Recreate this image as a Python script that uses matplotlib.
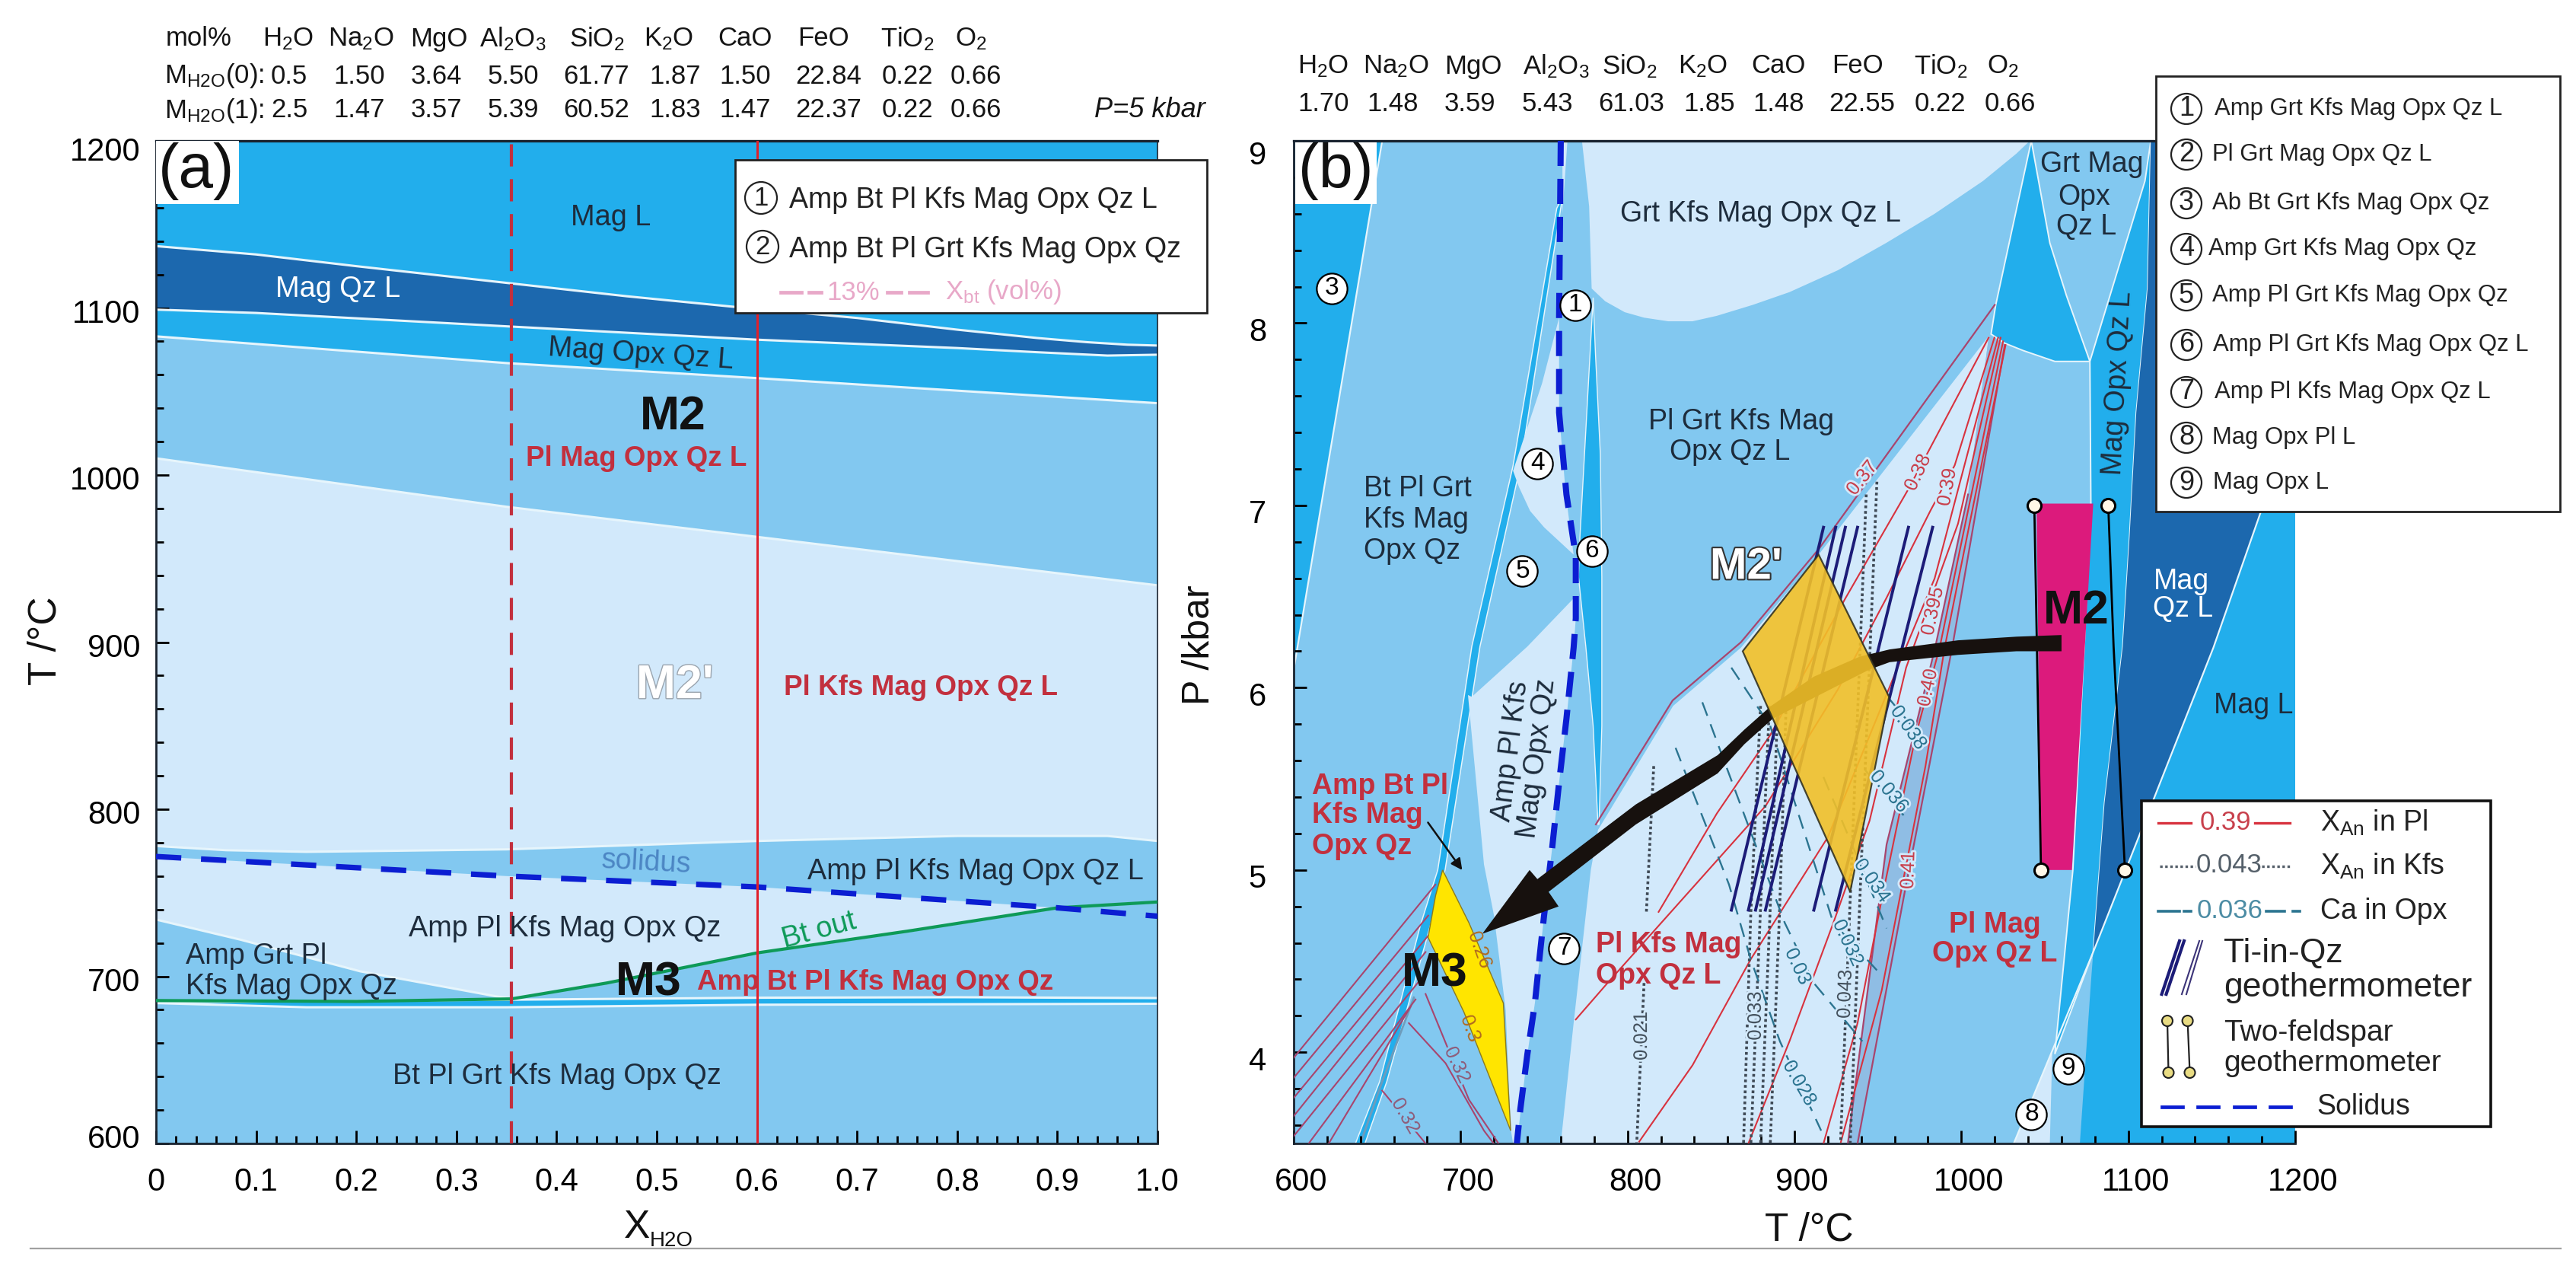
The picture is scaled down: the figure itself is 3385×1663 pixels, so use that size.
import matplotlib
matplotlib.use("Agg")
import matplotlib.pyplot as plt
from matplotlib.patches import Rectangle, Circle, Polygon
from matplotlib.transforms import ScaledTranslation
from matplotlib.ticker import MultipleLocator
import matplotlib.patheffects as pe

plt.rcParams['font.family'] = ['Liberation Sans', 'DejaVu Sans']
plt.rcParams['mathtext.default'] = 'regular'

BRIGHT = '#22AEEC'
DARK = '#1C68AE'
MEDIUM = '#82C8F0'
LIGHT = '#D2E9FB'
LINE = '#E6F5FC'
RED = '#C2303E'
TXT = '#1D2C3C'
SOLID_BLUE = '#0B1ED2'

# composition tables
oxides = ['H$_2$O', 'Na$_2$O', 'MgO', 'Al$_2$O$_3$', 'SiO$_2$', 'K$_2$O', 'CaO', 'FeO', 'TiO$_2$', 'O$_2$']
m0 = ['0.5', '1.50', '3.64', '5.50', '61.77', '1.87', '1.50', '22.84', '0.22', '0.66']
m1 = ['2.5', '1.47', '3.57', '5.39', '60.52', '1.83', '1.47', '22.37', '0.22', '0.66']
mb = ['1.70', '1.48', '3.59', '5.43', '61.03', '1.85', '1.48', '22.55', '0.22', '0.66']

# panel a boundaries, X_H2O and T
a_magl_x = [0, .1, .2, .35, .47, .58, .7, .8, .88, .93, .97, 1]
a_magl_t = [1137, 1132, 1125, 1115, 1107, 1100.5, 1094, 1087, 1082, 1079.5, 1078, 1077.5]
a_qz_x = [0, .1, .35, .6, .8, .88, .95, 1]
a_qz_t = [1099, 1097, 1089, 1081, 1076, 1073.5, 1071.5, 1072]
a_opx_x = [0, .35, .6, 1]
a_opx_t = [1083, 1067, 1058, 1043]
a_pl_x = [0, .35, .6, 1]
a_pl_t = [1010, 981, 963, 934]
a_kfs_x = [0, .07, .15, .35, .6, .8, .95, 1]
a_kfs_t = [778, 775.5, 774.5, 776, 781, 784, 784, 781]
a_sol_x = [0, .35, .6, .9, 1]
a_sol_t = [771.7, 760, 753.5, 741, 736]
a_low_x = [0, .084, .204, .34, .355, .45, .6, .75, .9, 1]
a_low_t = [734, 722, 703, 688, 686.7, 696, 714, 727, 741, 744.5]
a_grn_x = [0, .2, .355, .45, .6, .75, .9, 1]
a_grn_t = [685.5, 685, 686.5, 696, 714, 727, 741, 744.5]
a_up_x = [0, .35, .6, .8, 1]
a_up_t = [684.5, 686, 687.2, 687.5, 687]
a_dn_x = [0, .15, .35, .6, 1]
a_dn_t = [684, 681.5, 681.5, 683, 683.6]
a_x_dash = .355
a_x_solid = .6

# panel b phase fields, (T, P)
b_r3 = [(600, 9), (653, 9), (600, 6.1)]
b_band = [(757.6, 8.63), (731.4, 7.217), (706.7, 6.226), (686.3, 5), (676, 4.7), (651.5, 3.84), (637, 3.5),
          (642.7, 3.5), (655.8, 3.84), (682, 4.7), (690.7, 5), (711.6, 6.226), (735.8, 7.217), (761, 8.69)]
b_band_grey = [(640, 3.5), (653, 3.84), (672, 4.3)]
b_f4 = [(759, 8.03), (748.8, 7.67), (731.4, 7.19), (735, 7.1), (741.6, 6.97), (750, 6.88), (767.7, 6.73), (763, 7.06), (759, 7.51)]
b_top_sl = [(761, 9), (764, 9), (761, 8.6)]
b_lowlight = [(767.7, 6.49), (740, 6.226), (706.7, 5.95), (704.4, 5.96), (714, 5.03), (720, 4.75), (727, 4.23),
              (730, 3.58), (731.4, 3.5), (733.7, 3.5), (740, 3.99), (744.5, 4.27), (750, 4.75), (754.6, 5.1),
              (759, 5.48), (763.4, 5.83), (767.7, 6.22), (769, 6.38)]
b_f6 = [(779.4, 8.14), (771.5, 6.83), (770.6, 6.61), (775, 6.226), (779.4, 5.79), (782.3, 5.25),
        (782.9, 5.25), (784.6, 5.79), (784.6, 6.61), (783.7, 7.28), (780.8, 7.83)]
b_grt = [(772.7, 9), (777, 8.64), (778.5, 8.19), (786.6, 8.12), (798.3, 8.06), (809.9, 8.03), (824.4, 8.01), (838.9, 8.01),
         (853.5, 8.04), (875, 8.1), (897, 8.17), (926, 8.29), (955, 8.44), (984, 8.6), (1013, 8.78), (1033, 8.93), (1041, 9)]
b_wedge = [(1041.9, 9), (1020.6, 8.1), (1017.8, 7.94), (1026, 7.89), (1036.9, 7.85), (1056, 7.79), (1077, 7.79), (1063, 8.15), (1053, 8.44)]
b_kfs = [(1016.5, 7.93), (914.5, 6.73), (868, 6.22), (827.3, 5.9), (782.3, 5.22), (778, 5), (767.7, 4.16),
         (760, 3.5), (932, 3.5), (955.2, 5.14), (984.3, 6.22), (1004, 7.06)]
b_magopx = [(1113.5, 9), (1111.6, 8.19), (1104.8, 7.51), (1100.8, 6.83), (1096.7, 6.226), (1085.8, 5.37), (1079, 4.55),
            (1056, 3.99), (1066.8, 5), (1073.6, 6.22), (1077.6, 7.01), (1077, 7.79), (1110, 8.78)]
b_magqz = [(1113.5, 9), (1111.6, 8.19), (1104.8, 7.51), (1100.8, 6.83), (1096.7, 6.226), (1085.8, 5.37), (1079, 4.55),
           (1115.7, 5.4), (1151, 6.22), (1179.6, 6.97), (1200, 7.5), (1200, 9)]
b_magl = [(1200, 7.5), (1200, 3.5), (1071, 3.5), (1077.6, 4.38), (1079, 4.55), (1115.7, 5.4), (1151, 6.22), (1179.6, 6.97)]
b_f8 = [(1054.5, 4.01), (1031.4, 3.5), (1053, 3.5)]
b_diag = [(1031.4, 3.5), (1079, 4.55), (1115.7, 5.4), (1151, 6.22), (1179.6, 6.97), (1200, 7.5)]
b_band_r = [(932, 3.5), (937.8, 3.5), (966.9, 4.92), (994.5, 6.22), (1026, 7.88), (1016.5, 7.93), (1004, 7.06), (984.3, 6.22), (955.2, 5.14)]
b_m3 = [(689.2, 5), (705, 4.71), (725.6, 4.27), (730, 3.57), (702, 4.22), (680.5, 4.63), (685, 4.86)]
b_m2p = [(914.5, 6.73), (956.7, 5.95), (933.4, 4.88), (869, 6.2)]
b_m2 = [(1045, 7.01), (1079, 7.01), (1074, 6.226), (1066.2, 5), (1047.7, 5)]

b_sol = [(760, 9), (759, 8.03), (759, 7.51), (763.4, 7.06), (769, 6.72), (769, 6.38), (767.7, 6.22), (763.4, 5.83),
         (759, 5.48), (754.6, 5.1), (750, 4.75), (747.4, 4.53), (744.5, 4.27), (740, 3.99), (735.8, 3.69), (733.7, 3.5)]

# X_An in Pl isolines
pl_lines = [
    [(1020, 8.1), (914.5, 6.76), (868, 6.25), (827, 5.93), (781, 5.25)],
    [(1016.3, 7.92), (968.3, 7.09), (930.5, 6.49), (885.5, 5.74), (853.5, 5.31), (818.6, 4.77)],
    [(1019.8, 7.92), (996, 7.22), (981.4, 6.97), (955, 6.49), (926, 5.99), (882.6, 5.35), (788, 4.38), (769, 4.18)],
    [(1022, 7.92), (984, 6.6), (967, 6.226), (920, 5.18), (873.8, 4.51), (839, 3.93), (807, 3.51)],
    [(1023.5, 7.92), (998, 6.9), (966.9, 6.11), (945, 5.27), (923.3, 4.71), (897, 4.06), (872.4, 3.5)],
    [(1025, 7.9), (987, 6.22), (972.7, 5.74), (952.3, 4.84), (937.8, 4.16), (917.4, 3.5)],
    [(1026.5, 7.88), (990, 6.22), (978.5, 5.57), (952.3, 4.34), (927.6, 3.5)],
    [(932, 3.5), (955.2, 5.14), (984.3, 6.22), (1004, 7.06)],
    [(937.8, 3.5), (966.9, 4.92), (994.5, 6.22), (1026, 7.88)],
]
# left fan and lower fan
fan_lines = [
    [(600, 3.97), (684.9, 4.92)], [(600, 3.86), (680.6, 4.75)], [(600, 3.75), (680.6, 4.64)],
    [(600, 3.65), (679, 4.55)], [(600, 3.54), (676, 4.4)], [(609, 3.5), (673, 4.29)], [(621, 3.5), (670, 4.25)],
    [(679, 4.32), (705, 3.74), (722.7, 3.5)], [(669, 4.16), (691, 3.94), (714, 3.57), (719.8, 3.5)],
    [(653, 3.79), (679, 3.5)],
]
# Ti-in-Qz, top and bottom T
ti_top = [917.4, 924.7, 930.5, 937.8, 968.3, 982.8]
ti_bot = [862.2, 872.4, 876.7, 882.6, 911.6, 924.7]
ti_p = [6.88, 4.78]
# X_An in Kfs
kfs_lines = [
    [(815.7, 5.57), (811.3, 4.77)], [(809.9, 4.38), (805.5, 3.5)],
    [(879.7, 5.9), (873.8, 4.75), (869.5, 3.5)], [(885, 5.9), (879.5, 4.75), (873.9, 3.5)],
    [(890, 5.9), (885.3, 4.75), (879.7, 3.5)], [(895, 5.9), (891, 4.75), (885.5, 3.5)],
    [(943, 7.06), (933.4, 4.84), (927.6, 3.5)], [(949.4, 7.13), (939.2, 4.84), (933.4, 3.5)],
]
# Ca in Opx
ca_lines = [
    [(828.8, 5.67), (860.8, 4.92), (873.8, 4.51), (891.3, 4.06), (916, 3.57)],
    [(844.8, 5.92), (868, 5.35), (894.2, 4.71), (911.6, 4.38), (940.7, 4.06)],
    [(862.2, 6.11), (885.5, 5.79), (923.3, 4.71), (949.4, 4.45)],
    [(917.4, 5.51), (936.3, 5.1), (955.2, 4.68)],
    [(942.2, 5.55), (965.4, 5.3)],
    [(956.7, 5.94), (978.5, 5.7)],
]
feld_t = [(1043.7, 1047.7), (1088, 1098)]
feld_mid = [None, (1091.2, 6.226)]
feld_p = (7.0, 5.0)
arrow_big = [(1060, 6.289), (1033, 6.28), (998, 6.26), (957, 6.21), (939, 6.17), (911.5, 6.06), (886, 5.9), (870, 5.77), (854, 5.63),
             (805, 5.36), (746, 4.95), (741.3, 5), (713, 4.65), (758.7, 4.8), (752.7, 4.88), (805, 5.25), (854, 5.53), (870, 5.69),
             (887, 5.83), (945, 6.1), (957, 6.14), (998, 6.18), (1033, 6.2), (1060, 6.2)]

# isoline labels: text, T, P, rotation
pl_labels = [('0.37', 940.7, 7.15, 52), ('0.38', 974, 7.18, 65), ('0.39', 991.6, 7.1, 80), ('0.395', 982.9, 6.42, 78),
             ('0.40', 980, 6, 78), ('0.41', 968.3, 5, 88)]
fan_labels = [('0.32', 698, 3.93, -65), ('0.32', 667, 3.65, -60)]
m3_labels = [('0.26', 711, 4.56, -70), ('0.3', 705, 4.13, -70)]
kfs_labels = [('0.021', 808.4, 4.09, 90), ('0.033', 876.7, 4.2, 90), ('0.043', 930.5, 4.32, 88)]
ca_labels = [('0.038', 968.3, 5.78, -55), ('0.036', 956.7, 5.43, -50), ('0.034', 946.5, 4.94, -55),
             ('0.032', 932, 4.6, -65), ('0.03', 902, 4.47, -65), ('0.028', 903, 3.83, -60)]
circ_b = [(3, 623, 8.19), (1, 768.6, 8.1), (4, 746, 7.23), (5, 737, 6.64), (6, 778.5, 6.75), (7, 762, 4.57),
          (8, 1042, 3.66), (9, 1064, 3.91)]
legend_b = ['Amp Grt Kfs Mag Opx Qz L', 'Pl Grt Mag Opx Qz L', 'Ab Bt Grt Kfs Mag Opx Qz', 'Amp Grt Kfs Mag Opx Qz',
            'Amp Pl Grt Kfs Mag Opx Qz', 'Amp Pl Grt Kfs Mag Opx Qz L', 'Amp Pl Kfs Mag Opx Qz L', 'Mag Opx Pl L', 'Mag Opx L']
legend_b_y = [143, 203, 267, 327, 388, 453, 515, 575, 634]
legend_b_x = [2910, 2907, 2907, 2902, 2907, 2908, 2910, 2907, 2908]

fig = plt.figure(figsize=(33.85, 16.63), dpi=100)
W, H = 3385, 1663
ax_a = fig.add_axes([205 / W, (H - 1502) / H, 1316 / W, 1317 / H])
ax_b = fig.add_axes([1700 / W, (H - 1502) / H, 1316 / W, 1317 / H])
top = fig.add_axes([0, 0, 1, 1], zorder=5)
top.set_xlim(0, W)
top.set_ylim(H, 0)
top.axis('off')
top.patch.set_alpha(0)


def below(xs, ts, color):
    ax_a.fill(list(xs) + [xs[-1], xs[0]], list(ts) + [600, 600], color=color, lw=0, zorder=1)


def area(pts, color, z=1, edge=None, lw=0, alpha=None):
    ax_b.add_patch(Polygon(pts, closed=True, facecolor=color, edgecolor=edge if edge else 'none', lw=lw, zorder=z, alpha=alpha))


def path(pts, **kw):
    ax_b.plot([p[0] for p in pts], [p[1] for p in pts], **kw)


# ---- panel a
ax_a.set_facecolor(BRIGHT)
below(a_magl_x, a_magl_t, DARK)
below(a_qz_x, a_qz_t, BRIGHT)
below(a_opx_x, a_opx_t, MEDIUM)
below(a_pl_x, a_pl_t, LIGHT)
below(a_kfs_x, a_kfs_t, MEDIUM)
below(a_sol_x, a_sol_t, LIGHT)
below(a_low_x, a_low_t, MEDIUM)
below(a_up_x, a_up_t, BRIGHT)
below(a_dn_x, a_dn_t, MEDIUM)
for xs, ts in [(a_magl_x, a_magl_t), (a_qz_x, a_qz_t), (a_opx_x, a_opx_t), (a_pl_x, a_pl_t), (a_kfs_x, a_kfs_t),
               (a_low_x, a_low_t), (a_up_x, a_up_t), (a_dn_x, a_dn_t)]:
    ax_a.plot(xs, ts, color=LINE, lw=2.2, zorder=2)
ax_a.plot(a_grn_x, a_grn_t, color='#0E9A58', lw=3, zorder=3)
ax_a.plot(a_sol_x, a_sol_t, color=SOLID_BLUE, lw=5.2, ls=(0, (4.6, 3.6)), zorder=3)
ax_a.axvline(a_x_dash, color=RED, lw=3, ls=(0, (7, 4)), zorder=4)
ax_a.axvline(a_x_solid, color='#E0202A', lw=2.2, zorder=4)
ax_a.set_xlim(0, 1)
ax_a.set_ylim(600, 1200)
ax_a.xaxis.set_major_locator(MultipleLocator(.1))
ax_a.xaxis.set_minor_locator(MultipleLocator(.02))
ax_a.yaxis.set_major_locator(MultipleLocator(100))
ax_a.yaxis.set_minor_locator(MultipleLocator(20))
ax_a.set_xticks([i / 10 for i in range(11)])
ax_a.set_xticklabels(['0', '0.1', '0.2', '0.3', '0.4', '0.5', '0.6', '0.7', '0.8', '0.9', '1.0'])

a_texts = [
    ('Mag L', .454, 1154, TXT, 0), ('Mag Qz L', .182, 1111, 'white', 0), ('Mag Opx Qz L', .484, 1072, TXT, -4),
    ('Amp Pl Kfs Mag Opx Qz L', .818, 762.7, TXT, 0), ('Amp Pl Kfs Mag Opx Qz', .408, 728.7, TXT, 0),
    ('Bt Pl Grt Kfs Mag Opx Qz', .40, 640, TXT, 0), ('solidus', .49, 768, '#4C86C4', -3), ('Bt out', .662, 727.5, '#0E9A58', 15),
]
for s, x, y, c, r in a_texts:
    ax_a.text(x, y, s, color=c, rotation=r, fontsize=27.3, ha='center', va='center', zorder=8)
for s, y in [('Amp Grt Pl', 712), ('Kfs Mag Opx Qz', 694)]:
    ax_a.text(.03, y, s, color=TXT, fontsize=27.3, ha='left', va='center', zorder=8)
for s, x, y in [('Pl Mag Opx Qz L', .48, 1010), ('Pl Kfs Mag Opx Qz L', .764, 872.5), ('Amp Bt Pl Kfs Mag Opx Qz', .718, 696.5)]:
    ax_a.text(x, y, s, color=RED, fontsize=26.5, fontweight='bold', ha='center', va='center', zorder=8)
ax_a.text(.516, 1035, 'M2', color='#111111', fontsize=45, fontweight='bold', ha='center', va='center', zorder=8)
ax_a.text(.492, 696, 'M3', color='#111111', fontsize=45, fontweight='bold', ha='center', va='center', zorder=8)
ax_a.text(.518, 874, "M2'", color='white', fontsize=45, fontweight='bold', ha='center', va='center', zorder=8,
          path_effects=[pe.withStroke(linewidth=2, foreground='#9AA4AE')])

# ---- panel b
ax_b.set_facecolor(MEDIUM)
area(b_r3, BRIGHT, 1, LINE, 1.6)
area(b_band, BRIGHT, 1, LINE, 1.1)
path(b_band_grey, color='#6E9CBC', lw=2, zorder=1.5)
area(b_f4, LIGHT)
area(b_top_sl, LIGHT)
area(b_lowlight, LIGHT)
area(b_f6, BRIGHT, 1, LINE, 1)
area(b_grt, LIGHT)
area(b_kfs, LIGHT)
area(b_band_r, '#8FBDE4')
area(b_wedge, BRIGHT, 1, LINE, 1.4)
area(b_magopx, BRIGHT, 1, LINE, 1.4)
area(b_magqz, DARK)
area(b_magl, BRIGHT)
area(b_f8, LIGHT)
path(b_diag, color=LINE, lw=1.6, zorder=2)
area(b_m2, '#DC1A7C', 2.5)
for pts in pl_lines[:1] + pl_lines[7:]:
    path(pts, color='#A8456E', lw=1.6, zorder=3)
for pts in pl_lines[1:7]:
    path(pts, color='#D8323E', lw=1.5, zorder=3)
for pts in fan_lines:
    path(pts, color='#A8456E', lw=1.5, zorder=3)
for pts in kfs_lines:
    path(pts, color='#3F4A56', lw=2.6, ls=(0, (1, 1)), zorder=3)
for pts in ca_lines:
    path(pts, color='#2B7490', lw=1.7, ls=(0, (8, 5)), zorder=3)
area(b_m3, '#FFE500', 3.5, '#8A7A20', 1)
for tt, tb in zip(ti_top, ti_bot):
    ax_b.plot([tt, tb], ti_p, color='#1C1C78', lw=2.8, zorder=4)
path(b_sol, color=SOLID_BLUE, lw=5.8, ls=(0, (4.1, 2.1)), zorder=4.5)
ax_b.plot([feld_t[0][0], feld_t[0][1]], feld_p, color='black', lw=2, zorder=5)
ax_b.plot([feld_t[1][0], feld_mid[1][0], feld_t[1][1]], [feld_p[0], feld_mid[1][1], feld_p[1]], color='black', lw=2, zorder=5)
for pair in feld_t:
    ax_b.plot(pair, feld_p, ls='none', marker='o', ms=13, mfc='#FFF8E8', mec='black', mew=2.2, zorder=5.2)
area(arrow_big, '#17110E', 5.5)
ax_b.annotate('', xy=(701.7, 4.99), xytext=(679.7, 5.27), zorder=6,
              arrowprops=dict(arrowstyle='-|>', color='#111111', lw=1.8, mutation_scale=22))
area(b_m2p, '#F2C028', 6, '#333322', 1.6, alpha=.9)

ax_b.set_xlim(600, 1200)
ax_b.set_ylim(3.5, 9)
ax_b.xaxis.set_major_locator(MultipleLocator(100))
ax_b.xaxis.set_minor_locator(MultipleLocator(20))
ax_b.yaxis.set_major_locator(MultipleLocator(1))
ax_b.yaxis.set_minor_locator(MultipleLocator(.2))

b_texts = [('Grt Kfs Mag Opx Qz L', 879.7, 8.6), ('Pl Grt Kfs Mag', 868, 7.46), ('Opx Qz L', 861.3, 7.29),
           ('Opx', 1073.6, 8.69), ('Qz L', 1075, 8.53), ('Grt Mag', 1078, 8.87), ('Mag L', 1175, 5.9)]
for s, x, y in b_texts:
    ax_b.text(x, y, s, color=TXT, fontsize=27, ha='center', va='center', zorder=8)
for s, y in [('Bt Pl Grt', 7.09), ('Kfs Mag', 6.92), ('Opx Qz', 6.75)]:
    ax_b.text(642, y, s, color=TXT, fontsize=27, ha='left', va='center', zorder=8)
ax_b.text(1094, 7.67, 'Mag Opx Qz L', color=TXT, fontsize=27, rotation=87, ha='center', va='center', zorder=8)
ax_b.text(730, 5.65, 'Amp Pl Kfs', color=TXT, fontsize=27, rotation=83, ha='center', va='center', zorder=8)
ax_b.text(746, 5.61, 'Mag Opx Qz', color=TXT, fontsize=27, rotation=83, ha='center', va='center', zorder=8)
for s, x, y in [('Mag', 1132, 6.58), ('Qz L', 1133, 6.43)]:
    ax_b.text(x, y, s, color='white', fontsize=27, ha='center', va='center', zorder=8)
for s, x, y in [('Pl Mag', 1020, 4.7), ('Opx Qz L', 1020, 4.54)]:
    ax_b.text(x, y, s, color=RED, fontsize=27, fontweight='bold', ha='center', va='center', zorder=8)
for s, x, y in [('Amp Bt Pl', 610.8, 5.46), ('Kfs Mag', 610.8, 5.3), ('Opx Qz', 610.8, 5.13), ('Pl Kfs Mag', 780.8, 4.59), ('Opx Qz L', 780.8, 4.42)]:
    ax_b.text(x, y, s, color=RED, fontsize=27, fontweight='bold', ha='left', va='center', zorder=8)
ax_b.text(1068.7, 6.42, 'M2', color='#111111', fontsize=45, fontweight='bold', ha='center', va='center', zorder=8)
ax_b.text(684.3, 4.43, 'M3', color='#111111', fontsize=45, fontweight='bold', ha='center', va='center', zorder=8)
ax_b.text(871, 6.66, "M2'", color='white', fontsize=42, fontweight='bold', ha='center', va='center', zorder=8,
          path_effects=[pe.withStroke(linewidth=3, foreground='#333333')])
for labels, col, halo in [(pl_labels, '#C8404C', LIGHT), (fan_labels, '#8E5E7C', MEDIUM), (kfs_labels, '#45525E', LIGHT), (ca_labels, '#2B7490', LIGHT)]:
    for s, x, y, r in labels:
        ax_b.text(x, y, s, color=col, fontsize=18.5, rotation=r, ha='center', va='center', zorder=8,
                  path_effects=[pe.withStroke(linewidth=4, foreground=halo)])
for s, x, y, r in m3_labels:
    ax_b.text(x, y, s, color='#B06A20', fontsize=18.5, rotation=r, ha='center', va='center', zorder=8)
for n, x, y in circ_b:
    ax_b.plot([x], [y], ls='none', marker='o', ms=29, mfc='white', mec='black', mew=1.6, zorder=8)
    ax_b.text(x, y, str(n), color='black', fontsize=24, ha='center', va='center', zorder=9)

# ---- ticks
for ax in (ax_a, ax_b):
    ax.tick_params(which='major', direction='in', length=12, width=2, labelsize=30)
    ax.tick_params(which='minor', direction='in', length=7.5, width=2)
    ax.tick_params(axis='x', which='major', pad=22)
    ax.tick_params(axis='y', which='major', pad=15)
    for sp in ax.spines.values():
        sp.set_linewidth(2)
        sp.set_color('#1A2430')
    ax.spines['top'].set_linewidth(2.4)
ax_a.spines['right'].set_linewidth(1.2)
ax_b.spines['right'].set_visible(False)
ax_b.tick_params(axis='y', which='major', pad=26)
fig.canvas.draw()
for lab in ax_a.get_yticklabels():
    dy = {'1200': 11, '600': -9}.get(lab.get_text(), 4)
    lab.set_transform(lab.get_transform() + ScaledTranslation(0, -dy / 100, fig.dpi_scale_trans))
for lab in ax_b.get_yticklabels():
    dy = 15 if lab.get_text() == '9' else 8
    lab.set_transform(lab.get_transform() + ScaledTranslation(0, -dy / 100, fig.dpi_scale_trans))
for lab in ax_b.get_xticklabels():
    lab.set_transform(lab.get_transform() + ScaledTranslation(10 / 100, 0, fig.dpi_scale_trans))

# ---- overlay: tables, legends, axis titles
kw = dict(ha='center', va='center', color='#151515', fontsize=25)
col_a_h = [379, 474, 577, 674, 784, 879, 979, 1082, 1192, 1276]
col_a_v = [380, 472, 573, 674, 784, 887, 979, 1089, 1192, 1282]
top.text(261, 51, 'mol%', **kw)
top.text(216, 100, 'M$_{H2O}$(0):', ha='left', va='center', color='#151515', fontsize=25)
top.text(216, 145, 'M$_{H2O}$(1):', ha='left', va='center', color='#151515', fontsize=25)
for name, v0, v1, xh, xv in zip(oxides, m0, m1, col_a_h, col_a_v):
    top.text(xh, 51, name, **kw)
    top.text(xv, 100, v0, **kw)
    top.text(xv, 145, v1, **kw)
top.text(1584, 145, 'P=5 kbar', ha='right', va='center', style='italic', color='#151515', fontsize=26)
col_b_h = [1739, 1834, 1936, 2045, 2141, 2238, 2337, 2441, 2550, 2632]
col_b_v = [1739, 1830, 1931, 2033, 2144, 2246, 2337, 2447, 2549, 2641]
for name, v, xh, xv in zip(oxides, mb, col_b_h, col_b_v):
    top.text(xh, 87, name, **kw)
    top.text(xv, 137, v, **kw)

top.add_patch(Rectangle((205, 185), 109, 83, fc='white', ec='none'))
top.add_patch(Rectangle((1702, 187), 107, 81, fc='white', ec='none'))
top.text(258, 225, '(a)', fontsize=59, ha='center', va='center', color='#111111')
top.text(1755, 225, '(b)', fontsize=58, ha='center', va='center', color='#111111')


def circled(x, y, n, r=21, fs=25):
    top.add_patch(Circle((x, y), r, fc='white', ec='#222222', lw=1.6))
    top.text(x, y, str(n), fontsize=fs, ha='center', va='center', color='#222222')


# legend of a
top.add_patch(Rectangle((966, 210), 620, 201, fc='white', ec='#222222', lw=2))
circled(1000, 260, 1)
circled(1002, 324, 2)
top.text(1037, 263, 'Amp Bt Pl Kfs Mag Opx Qz L', fontsize=27, va='center', color='#222222')
top.text(1037, 328, 'Amp Bt Pl Grt Kfs Mag Opx Qz', fontsize=27, va='center', color='#222222')
PINK = '#E8A8C8'
for x0, x1 in [(1026, 1053), (1063, 1079), (1166, 1184), (1195, 1219)]:
    top.plot([x0, x1], [384, 384], color=PINK, lw=3.4)
top.text(1121, 384, '13%', fontsize=25, ha='center', va='center', color=PINK)
top.text(1242, 384, 'X$_{bt}$ (vol%)', fontsize=25, va='center', color=PINK)

# legend of b, top
top.add_patch(Rectangle((2833, 100), 531, 572, fc='white', ec='#222222', lw=2))
for i, (s, y, x) in enumerate(zip(legend_b, legend_b_y, legend_b_x)):
    circled(2873, y, i + 1, r=20, fs=26)
    top.text(x, y, s, fontsize=22.4, va='center', color='#222222')

# legend of b, lines
top.add_patch(Rectangle((2814, 1052), 459, 428, fc='white', ec='#111111', lw=2.6))
top.plot([2836, 2879], [1081, 1081], color='#D8323E', lw=2.4)
top.plot([2963, 3009], [1081, 1081], color='#D8323E', lw=2.4)
top.text(2924, 1081, '0.39', fontsize=25, ha='center', va='center', color='#C8404C')
top.plot([2838, 2885], [1138, 1138], color='#555F6A', lw=2.4, ls=(0, (1, 1)))
top.plot([2972, 3012], [1138, 1138], color='#555F6A', lw=2.4, ls=(0, (1, 1)))
top.text(2929, 1136, '0.043', fontsize=25, ha='center', va='center', color='#55606A')
for x0, x1 in [(2836, 2864), (2870, 2879), (2978, 3002), (3013, 3022)]:
    top.plot([x0, x1], [1197, 1197], color='#2B7490', lw=2.6)
top.text(2930, 1197, '0.036', fontsize=25, ha='center', va='center', color='#4C8CA4')
for s, y in [('X$_{An}$ in Pl', 1081), ('X$_{An}$ in Kfs', 1138), ('Ca in Opx', 1197)]:
    top.text(3049, y, s, fontsize=27, va='center', color='#222222')
top.text(2922, 1252, 'Ti-in-Qz', fontsize=32, va='center', color='#222222')
top.text(2922, 1298, 'geothermometer', fontsize=32, va='center', color='#222222')
top.text(2922, 1357, 'Two-feldspar', fontsize=28, va='center', color='#222222')
top.text(2922, 1397, 'geothermometer', fontsize=28, va='center', color='#222222')
top.text(3044, 1454, 'Solidus', fontsize=27, va='center', color='#222222')
for x0, x1, lw, c in [(2864, 2840.6, 3, '#1C1C78'), (2870, 2846.5, 3, '#1C1C78'), (2890, 2867, 1.5, '#3C3478'), (2894, 2873, 1.5, '#3C3478')]:
    top.plot([x0, x1], [1236, 1306], color=c, lw=lw)
for x0, x1 in [(2848, 2849.5), (2874.6, 2877.5)]:
    top.plot([x0, x1], [1341, 1409], color='#222222', lw=1.6)
    top.add_patch(Circle((x0, 1341), 7, fc='#E9DC83', ec='#222222', lw=1.5, zorder=4))
    top.add_patch(Circle((x1, 1409), 7, fc='#E9DC83', ec='#222222', lw=1.5, zorder=4))
for x0 in [2840.6, 2888, 2936, 2983]:
    top.plot([x0, x0 + 27], [1454, 1454], color=SOLID_BLUE, lw=3.4)

# axis titles
top.text(60, 842, 'T /°C', fontsize=37, rotation=90, ha='center', va='center', color='#111111')
top.text(1576, 847, 'P /kbar', fontsize=36, rotation=90, ha='center', va='center', color='#111111')
top.text(2377, 1616, 'T /°C', fontsize=37, ha='center', va='center', color='#111111')
top.text(837, 1613, 'X', fontsize=37, ha='center', va='center', color='#111111')
top.text(882, 1630, 'H2O', fontsize=20, ha='center', va='center', color='#111111')
top.plot([40, 3365], [1640, 1640], color='#A0A0A0', lw=1.6)
top.set_xlim(0, W)
top.set_ylim(H, 0)

fig.savefig('out.png', dpi=100, facecolor='white')
